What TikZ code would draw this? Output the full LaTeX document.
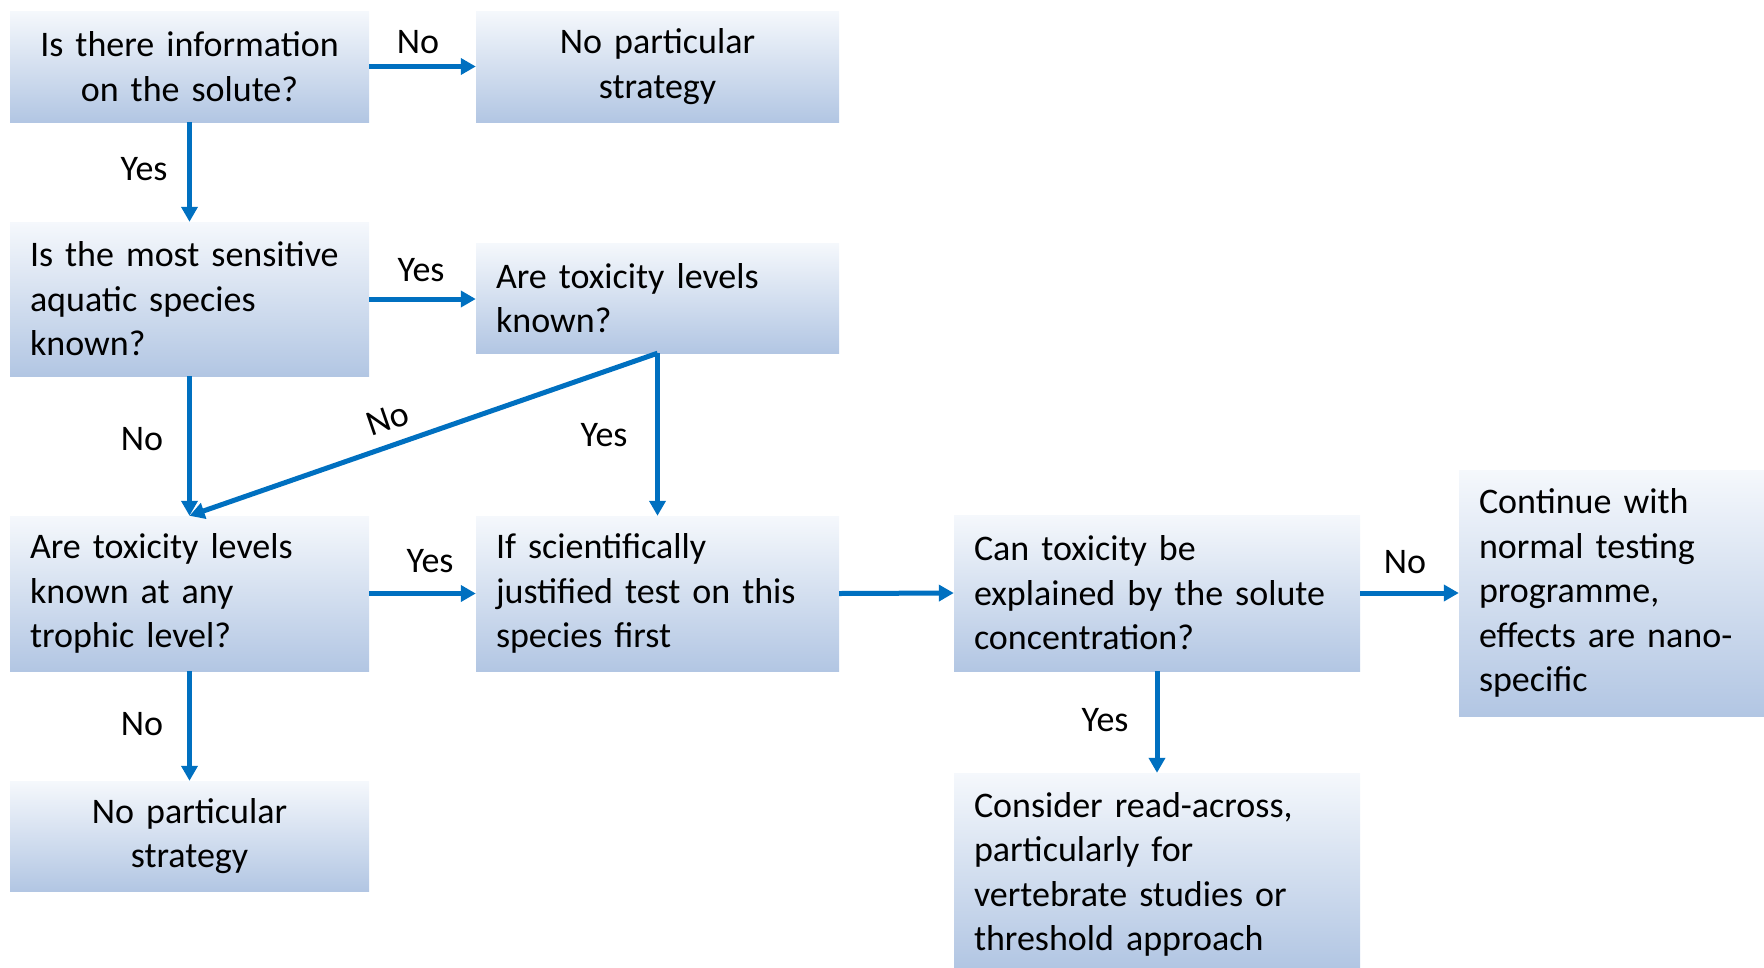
\documentclass[tikz,border=0pt]{standalone}
\usepackage{fontspec}
\setmainfont{Carlito}
\usetikzlibrary{arrows.meta,calc}
\definecolor{arrowblue}{RGB}{0,112,192}
\definecolor{boxtop}{RGB}{245,248,252}
\definecolor{boxbot}{RGB}{178,198,227}
\tikzset{
  box/.style={rectangle, top color=boxtop, bottom color=boxbot, draw=none,
    inner xsep=20pt, inner ysep=0pt, font=\fontsize{36}{44.4}\selectfont},
  lbox/.style={box, align=left},
  cbox/.style={box, align=center},
  conn/.style={draw=arrowblue, line width=5pt, -{Triangle[length=15pt,width=16pt]}},
  lab/.style={font=\fontsize{36}{44.4}\selectfont, inner sep=0pt}
}
\begin{document}
\begin{tikzpicture}[x=1pt,y=-1pt]
\useasboundingbox (0,0) rectangle (1764,967);
% boxes
\node[cbox, text width=319pt, minimum height=111pt] (b1) at (189.5,66.5) {Is there information\\on the solute?};
\node[cbox, text width=323pt, minimum height=111pt] (n1) at (657.5,66.5) {No particular\\strategy};
\node[lbox, text width=319pt, minimum height=154pt] (b2) at (189.5,299) {Is the most sensitive\\aquatic species\\known?};
\node[lbox, text width=323pt, minimum height=110pt] (t1) at (657.5,298) {Are toxicity levels\\known?};
\node[lbox, text width=319pt, minimum height=155pt] (b3) at (189.5,593.5) {Are toxicity levels\\known at any\\trophic level?};
\node[lbox, text width=323pt, minimum height=155pt] (s1) at (657.5,593.5) {If scientifically\\justified test on this\\species first};
\node[lbox, text width=366pt, minimum height=156pt] (c1) at (1157,593) {Can toxicity be\\explained by the solute\\concentration?};
\node[lbox, text width=265pt, minimum height=246pt] (r1) at (1611.5,593) {Continue with\\normal testing\\programme,\\effects are nano-\\specific};
\node[cbox, text width=319pt, minimum height=110pt] (n2) at (189.5,836) {No particular\\strategy};
\node[lbox, text width=366pt, minimum height=194pt] (k1) at (1157,870) {\rule{0pt}{34pt}Consider read-across,\\particularly for\\vertebrate studies or\\threshold approach};
% connectors
\draw[conn] (b1.east) -- (n1.west);
\draw[conn] (b1.south) -- (b2.north);
\draw[conn] (b2.east) -- (b2.east -| t1.west);
\draw[conn] (b2.south) -- (b3.north);
\draw[conn] (t1.south) -- (b3.north);
\draw[conn] (t1.south) -- (s1.north);
\draw[conn] (b3.east) -- (s1.west);
\draw[conn] (s1.east) -- (c1.west);
\draw[conn] (c1.east) -- (r1.west);
\draw[conn] (c1.south) -- (k1.north);
\draw[conn] (b3.south) -- (n2.north);
% labels
\node[lab] (l1) at (418,42) {No};
\node[lab] (l2) at (144,169) {Yes};
\node[lab] (l3) at (421,270) {Yes};
\node[lab] (l4) at (142,439) {No};
\node[lab, rotate=19] (l5) at (388,419) {No};
\node[lab] (l6) at (604,435) {Yes};
\node[lab] (l7) at (430,561) {Yes};
\node[lab] (l8) at (1405,562) {No};
\node[lab] (l9) at (1105,720) {Yes};
\node[lab] (l10) at (142,724) {No};
\end{tikzpicture}
\end{document}
